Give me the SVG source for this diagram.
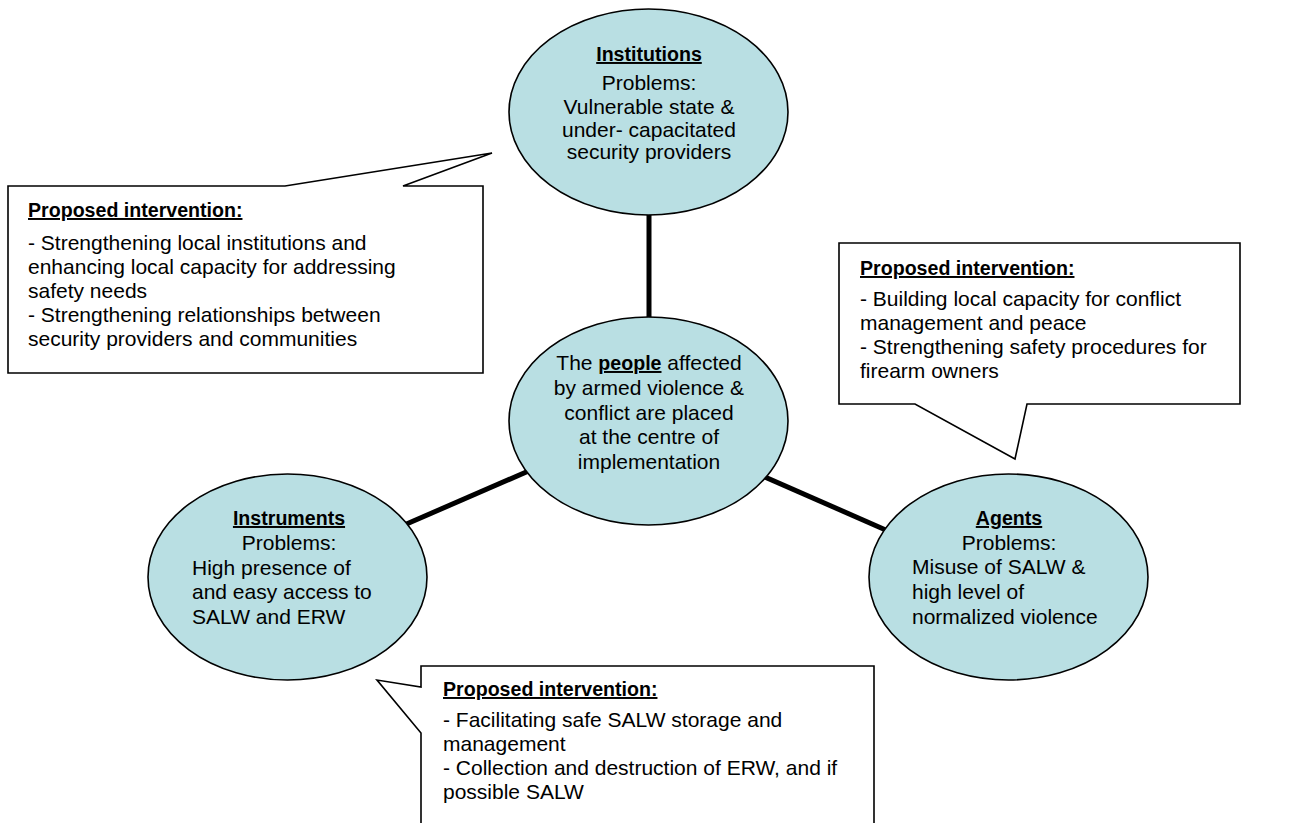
<svg xmlns="http://www.w3.org/2000/svg" width="1292" height="823" viewBox="0 0 1292 823">
<style>
text{font-family:"Liberation Sans",Arial,Helvetica,sans-serif;font-size:21px;fill:#000}
.t{font-weight:bold;font-size:19.6px;text-decoration:underline}
.c{text-anchor:middle}
.node{fill:#B9DFE3;stroke:#000;stroke-width:1.6}
.call{fill:#fff;stroke:#000;stroke-width:1.6;stroke-linejoin:miter}
.spoke{stroke:#000;stroke-width:5;fill:none}
</style>
<rect width="1292" height="823" fill="#fff"/>
<g id="connectors">
<line class="spoke" x1="649" y1="205" x2="649" y2="325"/>
<line class="spoke" x1="540" y1="466" x2="395" y2="529"/>
<line class="spoke" x1="740" y1="466" x2="888" y2="531"/>
</g>
<g id="institutions">
<ellipse class="node" cx="648.5" cy="112" rx="139.5" ry="103"/>
<text class="t c" x="649" y="61">Institutions</text>
<text class="c" x="649" y="90">Problems:</text>
<text class="c" x="649" y="114">Vulnerable state &amp;</text>
<text class="c" x="649" y="137">under- capacitated</text>
<text class="c" x="649" y="159">security providers</text>
</g>
<g id="people">
<ellipse class="node" cx="648.5" cy="421" rx="139.5" ry="104"/>
<text class="c" x="649" y="370">The <tspan font-weight="bold" text-decoration="underline" font-size="19.6">people</tspan> affected</text>
<text class="c" x="649" y="395">by armed violence &amp;</text>
<text class="c" x="649" y="420">conflict are placed</text>
<text class="c" x="649" y="444">at the centre of</text>
<text class="c" x="649" y="469">implementation</text>
</g>
<g id="instruments">
<ellipse class="node" cx="287.5" cy="577" rx="139.5" ry="103"/>
<text class="t c" x="289" y="525">Instruments</text>
<text class="c" x="289" y="550">Problems:</text>
<text x="192" y="575">High presence of</text>
<text x="192" y="599">and easy access to</text>
<text x="192" y="624">SALW and ERW</text>
</g>
<g id="agents">
<ellipse class="node" cx="1008.5" cy="577" rx="139.5" ry="103"/>
<text class="t c" x="1009" y="525">Agents</text>
<text class="c" x="1009" y="550">Problems:</text>
<text x="912" y="574">Misuse of SALW &amp;</text>
<text x="912" y="599">high level of</text>
<text x="912" y="624">normalized violence</text>
</g>
<g id="intervention-institutions">
<path class="call" d="M8,186 H285 L492,153 L403,186 H483 V373 H8 Z"/>
<text class="t" x="28" y="217">Proposed intervention:</text>
<text x="28" y="250">- Strengthening local institutions and</text>
<text x="28" y="274">enhancing local capacity for addressing</text>
<text x="28" y="298">safety needs</text>
<text x="28" y="322">- Strengthening relationships between</text>
<text x="28" y="346">security providers and communities</text>
</g>
<g id="intervention-agents">
<path class="call" d="M839,243 H1240 V404 H1027 L1015,459 L915,404 H839 Z"/>
<text class="t" x="860" y="275">Proposed intervention:</text>
<text x="860" y="306">- Building local capacity for conflict</text>
<text x="860" y="330">management and peace</text>
<text x="860" y="354">- Strengthening safety procedures for</text>
<text x="860" y="378">firearm owners</text>
</g>
<g id="intervention-instruments">
<path class="call" d="M421,840 V733 L377,680 L421,687 V666 H874 V840"/>
<text class="t" x="443" y="696">Proposed intervention:</text>
<text x="443" y="727">- Facilitating safe SALW storage and</text>
<text x="443" y="751">management</text>
<text x="443" y="775">- Collection and destruction of ERW, and if</text>
<text x="443" y="799">possible SALW</text>
</g>
</svg>
